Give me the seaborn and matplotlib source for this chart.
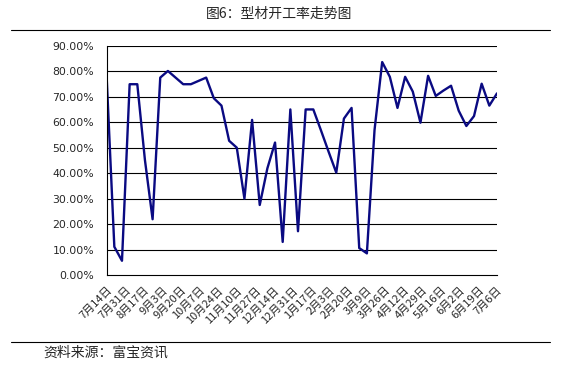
import matplotlib
matplotlib.use("Agg")
import matplotlib.pyplot as plt
import seaborn as sns
import pandas as pd
import numpy as np

# weekly dates (7月14日 ... 7月6日)
start_date = "2014-07-14"
n_weeks = 52
values = [77.6, 11.2, 5.7, 75.0, 75.0, 45.2, 22.0, 77.6, 80.2, 77.6,
          75.0, 75.0, 76.3, 77.6, 69.5, 66.6, 52.8, 50.1, 30.1, 61.0,
          27.6, 42.0, 52.1, 13.1, 65.1, 17.3, 65.1, 65.1, 56.9, 48.5,
          40.3, 61.5, 65.7, 10.7, 8.6, 57.0, 83.7, 77.9, 65.7, 77.9,
          72.1, 59.9, 78.3, 70.4, 72.5, 74.4, 64.6, 58.6, 62.5, 75.2,
          66.6, 71.4]
tick_labels = ["7月14日", "7月31日", "8月17日", "9月3日", "9月20日", "10月7日",
               "10月24日", "11月10日", "11月27日", "12月14日", "12月31日",
               "1月17日", "2月3日", "2月20日", "3月9日", "3月26日", "4月12日",
               "4月29日", "5月16日", "6月2日", "6月19日", "7月6日"]
y_ticks = [0, 10, 20, 30, 40, 50, 60, 70, 80, 90]

dates = pd.date_range(start=start_date, periods=n_weeks, freq="7D")
df = pd.DataFrame({"date": dates, "rate": values})
tick_dates = pd.date_range(start=start_date, periods=len(tick_labels), freq="17D")

sns.set_style("white")
plt.rcParams["font.family"] = ["Noto Sans CJK SC", "DejaVu Sans"]

fig = plt.figure(figsize=(5.82, 3.68), dpi=100)
ax = fig.add_axes([0.1833, 0.2519, 0.6706, 0.6231])

sns.lineplot(data=df, x="date", y="rate", ax=ax, color="#0a0a82", lw=1.7)

ax.set_xlim(dates[0], dates[-1])
ax.set_ylim(0, 90)
ax.set_yticks(y_ticks)
ax.set_yticklabels([f"{v:.2f}%" for v in y_ticks], fontsize=7.8, family="DejaVu Sans")
ax.set_xticks(tick_dates)
ax.set_xticklabels(tick_labels, rotation=45, ha="right", va="top",
                   rotation_mode="anchor", fontsize=8)
ax.set_xlabel("")
ax.set_ylabel("")
for v in y_ticks[1:]:
    ax.axhline(v, color="black", lw=0.8, zorder=0)
for s in ["top", "right"]:
    ax.spines[s].set_visible(False)
for s in ["left", "bottom"]:
    ax.spines[s].set_color("black")
    ax.spines[s].set_linewidth(0.8)
ax.tick_params(axis="y", length=0, pad=9)
ax.tick_params(axis="x", direction="in", length=3, width=0.8, color="black", pad=7)

# title and frame lines
fig.text(0.480, 1 - 14/368, "图6：型材开工率走势图", ha="center", va="center", fontsize=10)
fig.add_artist(plt.Line2D([11/582, 550/582], [1 - 30/368, 1 - 30/368], color="black", lw=0.8))
fig.add_artist(plt.Line2D([11/582, 550/582], [1 - 342/368, 1 - 342/368], color="black", lw=0.8))
fig.text(43/582, 1 - 353/368, "资料来源：富宝资讯", ha="left", va="center", fontsize=10)

fig.savefig("out.png", dpi=100)
